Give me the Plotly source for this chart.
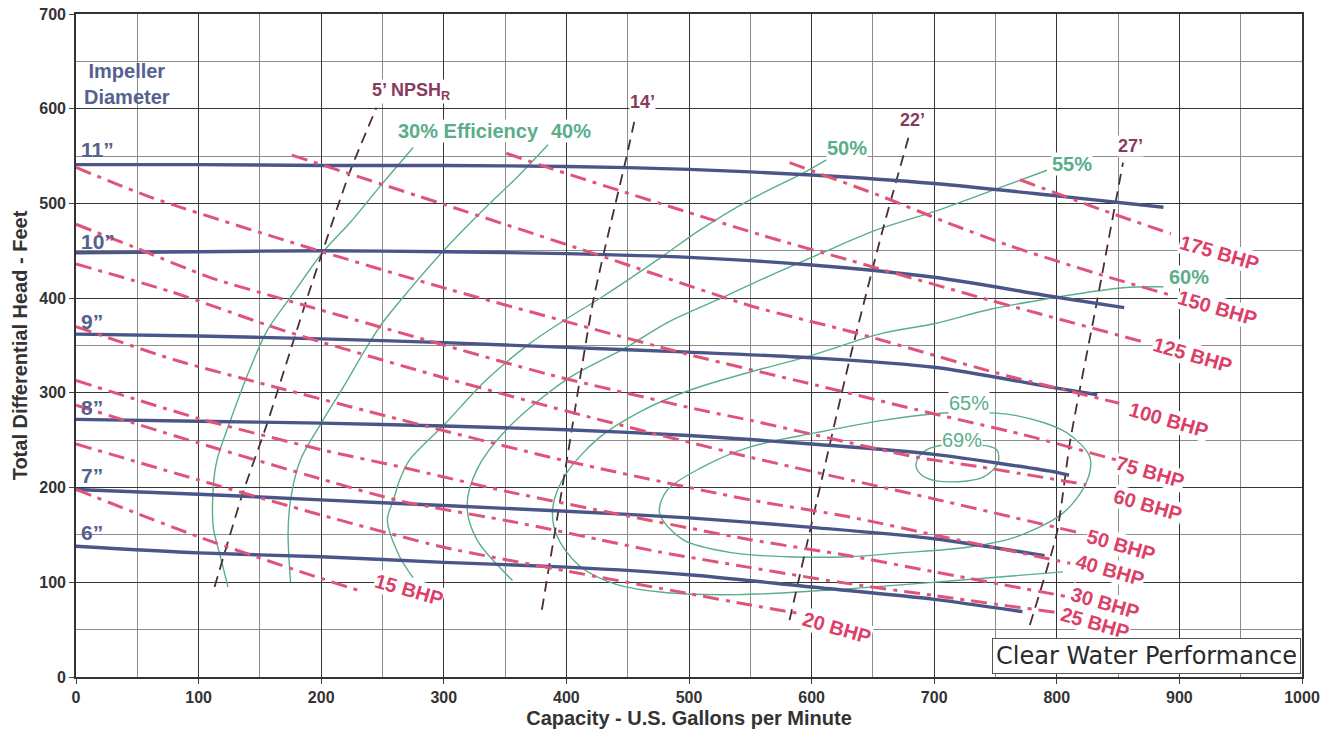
import plotly.graph_objects as go

# ---------------- data ----------------
# Impeller diameter head curves: capacity (US gpm) vs head (ft)
imp_11_q = [0, 100, 200, 300, 400, 500, 600, 700, 800, 887]
imp_11_h = [541, 541, 540, 540, 539, 536, 530, 521, 508, 496]
imp_10_q = [0, 100, 200, 300, 400, 500, 600, 700, 800, 855]
imp_10_h = [448, 449, 450, 449, 447, 443, 435, 422, 401, 390]
imp_9_q = [0, 100, 200, 300, 400, 500, 600, 700, 800, 833]
imp_9_h = [362, 360, 357, 353, 348, 343, 337, 327, 305, 298]
imp_8_q = [0, 100, 200, 300, 400, 500, 600, 700, 800, 810]
imp_8_h = [272, 270, 268, 265, 261, 255, 246, 235, 216, 213]
imp_7_q = [0, 100, 200, 300, 400, 500, 600, 700, 790]
imp_7_h = [198, 193, 187, 181, 175, 168, 158, 146, 128]
imp_6_q = [0, 100, 200, 300, 400, 500, 600, 700, 772]
imp_6_h = [138, 131, 127, 121, 116, 108, 95, 82, 69]
imp_labels = ["11”", "10”", "9”", "8”", "7”", "6”"]

# Brake horsepower lines
bhp_15_q = [0, 100, 200, 234]
bhp_15_h = [198, 148, 104, 90]
bhp_20_q = [0, 100, 200, 300, 400, 500, 550, 590]
bhp_20_h = [246, 208, 171, 137, 112, 88, 76, 67]
bhp_25_q = [0, 100, 200, 264, 360, 427, 476, 548, 623, 700, 800]
bhp_25_h = [287, 247, 209, 186, 163, 145, 132, 116, 100, 86, 68]
bhp_30_q = [0, 100, 200, 264, 351, 450, 550, 631, 700, 808]
bhp_30_h = [313, 273, 240, 222, 196, 170, 145, 128, 111, 85]
bhp_40_q = [0, 80, 160, 264, 400, 550, 631, 700, 811]
bhp_40_h = [370, 335, 307, 272, 228, 187, 169, 150, 120]
bhp_50_q = [0, 77, 169, 300, 420, 550, 700, 819]
bhp_50_h = [436, 407, 366, 316, 274, 232, 188, 152]
bhp_60_q = [0, 47, 109, 166, 285, 387, 509, 550, 686, 737, 824]
bhp_60_h = [478, 454, 422, 400, 356, 319, 282, 271, 232, 222, 203]
bhp_75_q = [0, 60, 183, 305, 395, 501, 604, 696, 772, 849]
bhp_75_h = [538, 507, 456, 409, 377, 340, 308, 279, 256, 229]
bhp_100_q = [176, 300, 425, 550, 634, 751, 851]
bhp_100_h = [551, 499, 446, 392, 364, 321, 289]
bhp_125_q = [351, 387, 558, 631, 745, 870]
bhp_125_h = [553, 537, 467, 440, 398, 354]
bhp_150_q = [582, 658, 710, 760, 835, 896]
bhp_150_h = [543, 507, 480, 456, 425, 402]
bhp_175_q = [770, 835, 893]
bhp_175_h = [525, 494, 468]
bhp_labels = ["15 BHP", "20 BHP", "25 BHP", "30 BHP", "40 BHP", "50 BHP",
              "60 BHP", "75 BHP", "100 BHP", "125 BHP", "150 BHP", "175 BHP"]

# Efficiency curves
eff_30_q = [124, 117, 112, 112, 115, 126, 139, 156, 175, 201, 223, 248, 275]
eff_30_h = [95, 131, 158, 201, 229, 271, 316, 366, 401, 448, 479, 518, 559]
eff_40_q = [175, 173, 175, 183, 200, 218, 237, 250, 272, 299, 332, 360, 385]
eff_40_h = [100, 152, 187, 229, 268, 306, 348, 374, 409, 449, 493, 528, 562]
eff_50_q = [275, 264, 254, 259, 264, 272, 300, 335, 370, 400, 430, 476, 509, 550, 593, 612]
eff_50_h = [105, 127, 166, 187, 208, 229, 266, 314, 352, 378, 402, 442, 472, 504, 532, 546]
eff_55_q = [356, 327, 319, 327, 351, 400, 449, 482, 528, 563, 609, 653, 699, 748, 792]
eff_55_h = [102, 145, 180, 219, 261, 314, 348, 374, 401, 422, 448, 472, 491, 514, 535]
eff_60_q = [805, 700, 604, 540, 482, 440, 410, 392, 389, 400, 427, 460, 501, 550, 596, 658, 700, 745, 800, 854, 887]
eff_60_h = [111, 100, 91, 87, 89, 98, 118, 150, 180, 215, 253, 280, 303, 322, 338, 363, 373, 388, 401, 411, 412]
eff_65_q = [631, 672, 727, 767, 805, 824, 827, 808, 767, 713, 658, 604, 550, 510, 482, 476, 495, 536, 580, 631]
eff_65_h = [127, 131, 137, 148, 173, 205, 232, 258, 276, 279, 271, 258, 243, 221, 197, 173, 145, 131, 127, 127]
eff_69_q = [686, 694, 707, 730, 751, 752, 740, 713, 694, 686, 686]
eff_69_h = [229, 240, 245, 246, 240, 226, 211, 206, 210, 219, 229]
eff_labels = ["30% Efficiency", "40%", "50%", "55%", "60%", "65%", "69%"]

# NPSH required lines
npsh_5_q = [113, 136, 156, 188, 223, 245]
npsh_5_h = [95, 194, 268, 398, 532, 601]
npsh_14_q = [380, 400, 422, 449, 456]
npsh_14_h = [71, 226, 398, 549, 590]
npsh_22_q = [582, 631, 658, 680]
npsh_22_h = [60, 335, 472, 574]
npsh_27_q = [778, 800, 811, 833, 854]
npsh_27_h = [55, 152, 250, 398, 543]
npsh_labels = ["5’ NPSH<sub>R</sub>", "14’", "22’", "27’"]

x_ticks = [0, 100, 200, 300, 400, 500, 600, 700, 800, 900, 1000]
y_ticks = [0, 100, 200, 300, 400, 500, 600, 700]

# ---------------- styles ----------------
IMP_C = "#4b5688"
IMP_TXT = "#55618f"
BHP_C = "#e05479"
BHP_TXT = "#dc3f68"
EFF_C = "#5aae8a"
NPSH_C = "#4a2c3b"
NPSH_TXT = "#8a3a5f"
FONT = "Liberation Sans, Arial, sans-serif"

fig = go.Figure()

def add_curve(q, h, color, width, dash="solid", smoothing=0.9):
    fig.add_trace(go.Scatter(
        x=q, y=h, mode="lines", hoverinfo="skip",
        line=dict(color=color, width=width, dash=dash,
                  shape="spline", smoothing=smoothing)))

# efficiency curves (thin green)
for q, h in [(eff_30_q, eff_30_h), (eff_40_q, eff_40_h), (eff_50_q, eff_50_h),
             (eff_55_q, eff_55_h), (eff_60_q, eff_60_h), (eff_65_q, eff_65_h),
             (eff_69_q, eff_69_h)]:
    add_curve(q, h, EFF_C, 1.4)

# NPSH lines (dark dashed)
for q, h in [(npsh_5_q, npsh_5_h), (npsh_14_q, npsh_14_h),
             (npsh_22_q, npsh_22_h), (npsh_27_q, npsh_27_h)]:
    add_curve(q, h, NPSH_C, 1.8, dash="11px,7px", smoothing=0.6)

# impeller curves (solid slate blue)
for q, h in [(imp_11_q, imp_11_h), (imp_10_q, imp_10_h), (imp_9_q, imp_9_h),
             (imp_8_q, imp_8_h), (imp_7_q, imp_7_h), (imp_6_q, imp_6_h)]:
    add_curve(q, h, IMP_C, 3.4, smoothing=0.8)

# BHP lines (pink dash-dot)
bhp_series = [(bhp_15_q, bhp_15_h), (bhp_20_q, bhp_20_h), (bhp_25_q, bhp_25_h),
              (bhp_30_q, bhp_30_h), (bhp_40_q, bhp_40_h), (bhp_50_q, bhp_50_h),
              (bhp_60_q, bhp_60_h), (bhp_75_q, bhp_75_h), (bhp_100_q, bhp_100_h),
              (bhp_125_q, bhp_125_h), (bhp_150_q, bhp_150_h), (bhp_175_q, bhp_175_h)]
for q, h in bhp_series:
    add_curve(q, h, BHP_C, 3.0, dash="16px,7px,4px,7px", smoothing=0.7)

# ---------------- annotations ----------------
ann = []

def label(x, y, text, color, size, bold=True, angle=0, xanchor="center", bg="white"):
    ann.append(dict(x=x, y=y, xref="x", yref="y", text=text, showarrow=False,
                    textangle=angle, xanchor=xanchor, yanchor="middle",
                    bgcolor=bg, borderpad=0,
                    font=dict(family=FONT, size=size, color=color,
                              weight="bold" if bold else "normal")))

label(6, 626, "Impeller<br>Diameter", IMP_TXT, 20, xanchor="left", bg="rgba(0,0,0,0)")
for txt, yy in zip(imp_labels, [557, 460, 375, 285, 213, 153]):
    label(3, yy, txt, IMP_TXT, 21, xanchor="left", bg="rgba(0,0,0,0)")

bhp_pos = [(272, 92), (621, 52), (831, 57), (839, 78), (843, 113), (852, 139),
           (874, 182), (876, 216), (891, 271), (911, 340), (931, 390), (933, 448)]
for txt, (xx, yy) in zip(bhp_labels, bhp_pos):
    label(xx, yy, txt, BHP_TXT, 20, angle=16)

eff_pos = [(320, 577), (404, 577), (629, 559), (812, 542), (908, 422), (728, 289), (723, 250)]
eff_bold = [True, True, True, True, True, False, False]
for txt, (xx, yy), b in zip(eff_labels, eff_pos, eff_bold):
    label(xx, yy, txt, EFF_C, 20, bold=b)

npsh_pos = [(273, 618), (462, 607), (682, 588), (860, 561)]
for txt, (xx, yy) in zip(npsh_labels, npsh_pos):
    label(xx, yy, txt, NPSH_TXT, 18)

ann.append(dict(x=999, y=3, xref="x", yref="y", xanchor="right", yanchor="bottom",
                text="Clear Water Performance", showarrow=False,
                bgcolor="white", bordercolor="#555", borderwidth=1, borderpad=3,
                font=dict(family="DejaVu Sans, sans-serif", size=24, color="#2a2a2a")))

axis_common = dict(
    showgrid=True, gridcolor="#353535", gridwidth=1.4,
    showline=True, linecolor="#333", linewidth=1.6, mirror=True,
    ticks="outside", ticklen=5, tickcolor="#444", zeroline=False,
    tickfont=dict(family=FONT, size=16, color="#333", weight="bold"),
    automargin=False,
)

fig.update_layout(
    width=1331, height=734,
    margin=dict(l=76, r=29, t=14, b=57),
    plot_bgcolor="white", paper_bgcolor="white",
    showlegend=False, annotations=ann,
    xaxis=dict(range=[0, 1000], tickvals=x_ticks,
               minor=dict(dtick=50, showgrid=True, gridcolor="#8c8c8c", gridwidth=1),
               title=dict(text="Capacity - U.S. Gallons per Minute", standoff=6,
                          font=dict(family=FONT, size=20, color="#333", weight="bold")),
               **axis_common),
    yaxis=dict(range=[0, 700], tickvals=y_ticks,
               minor=dict(dtick=50, showgrid=True, gridcolor="#8c8c8c", gridwidth=1),
               title=dict(text="Total Differential Head - Feet", standoff=6,
                          font=dict(family=FONT, size=20, color="#333", weight="bold")),
               **axis_common),
)

fig.write_html("out.html", config={"displayModeBar": False},
               post_script="document.body.style.margin='0';")
